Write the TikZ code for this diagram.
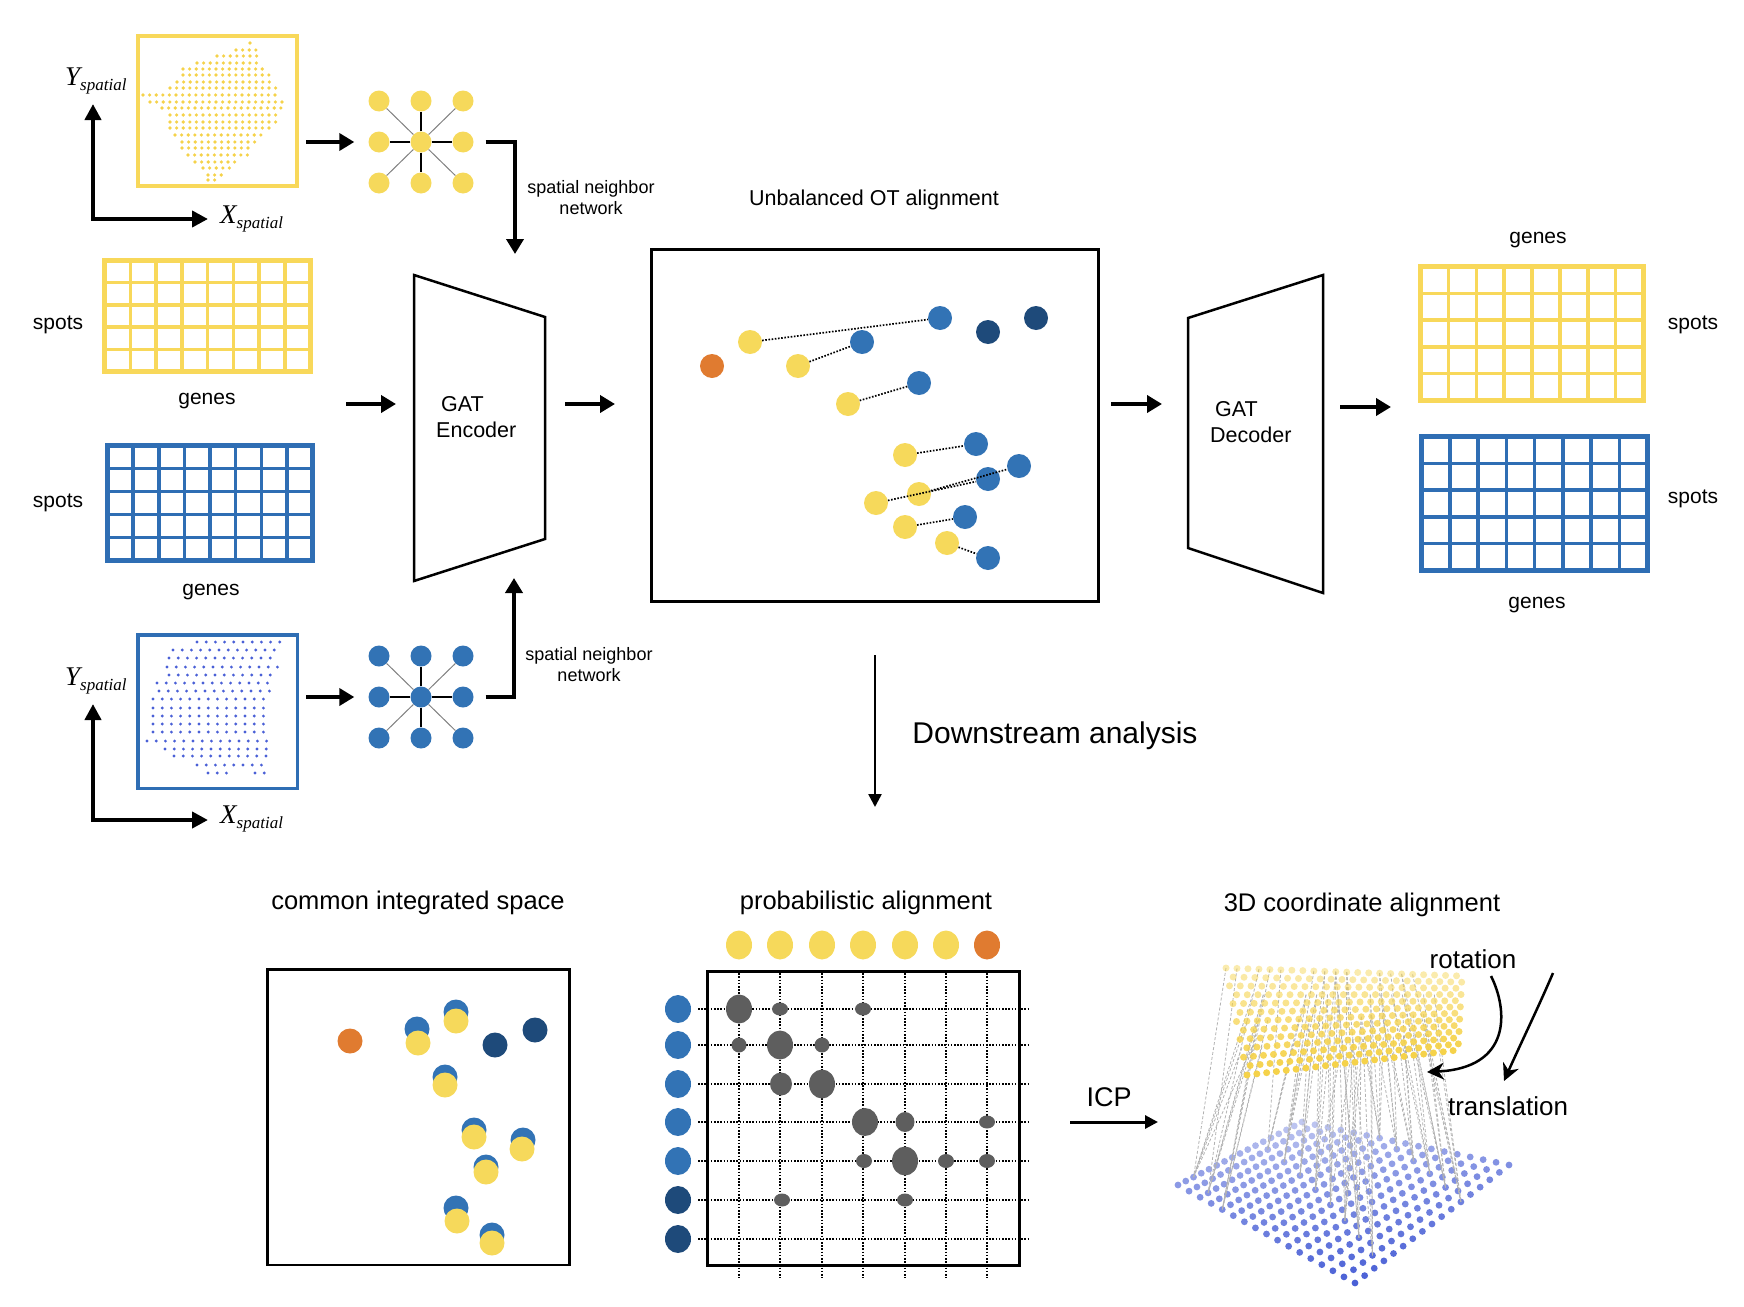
\documentclass[tikz,border=0pt]{standalone}
\usepackage{fontspec}
\setmainfont{Liberation Sans}
\newfontfamily\tms{Liberation Serif}
\usetikzlibrary{arrows.meta}
\definecolor{ycol}{HTML}{F6D95B}
\definecolor{bcol}{HTML}{3273B5}
\definecolor{ncol}{HTML}{1E4A7A}
\definecolor{ocol}{HTML}{E07B30}
\definecolor{gcol}{HTML}{5E5E5E}
\definecolor{doty}{HTML}{F5D24A}
\definecolor{dotb}{HTML}{4A60D6}
\definecolor{gridy}{HTML}{F8D85A}
\definecolor{gridb}{HTML}{2F6EB4}
\newcommand\fsz[2]{\fontsize{#1}{#2}\selectfont}
% matrix: name, x0, y0, x1, y1, colour (outer extents)
\newcommand\gmat[6]{%
  \foreach \k in {1,...,7} \draw[#6, line width=3.5pt] ({#2+2.5+(#4-#2-5)*\k/8},{#3+2.5}) -- ({#2+2.5+(#4-#2-5)*\k/8},{#5-2.5});
  \foreach \k in {1,...,4} \draw[#6, line width=3.5pt] ({#2+2.5},{#3+2.5+(#5-#3-5)*\k/5}) -- ({#4-2.5},{#3+2.5+(#5-#3-5)*\k/5});
  \node[draw=#6, line width=5pt, inner sep=0pt, minimum width={#4-#2-5}, minimum height={#5-#3-5}] (#1) at ({(#2+#4)/2},{(#3+#5)/2}) {};
}
% spatial neighbour graph: prefix, cx, cy, colour
\newcommand\spgraph[4]{%
  \node[gnode, fill=#4] (#1c) at (#2,#3) {};
  \foreach \a/\dx/\dy in {nw/-1/-1, n/0/-1, ne/1/-1, w/-1/0, e/1/0, sw/-1/1, s/0/1, se/1/1}
    \node[gnode, fill=#4] (#1\a) at ({#2+42*\dx},{#3+41*\dy}) {};
  \foreach \a in {n,s,e,w} \draw[line width=1.4pt] (#1c) -- (#1\a);
  \foreach \a in {nw,ne,sw,se} \draw[gray, line width=1pt] (#1c) -- (#1\a);
}
\begin{document}
\begin{tikzpicture}[x=1pt,y=-1pt,
  bigarr/.style={line width=4.5pt,-{Triangle[length=15pt,width=17pt]}},
  axarr/.style={line width=4pt,{Triangle[length=16pt,width=16pt]}-{Triangle[length=16pt,width=16pt]}, line join=miter},
  gnode/.style={circle,inner sep=0pt,minimum size=21pt},
  spot/.style={circle,inner sep=0pt,minimum size=25pt},
  lab/.style={font=\fsz{21}{25}, yshift=-3.5pt},
  small/.style={font=\fsz{18}{21}, align=center},
  title/.style={font=\fsz{25.5}{30}},
  dotl/.style={line width=1.7pt,dash pattern=on 1.6pt off 1.6pt},
]
\useasboundingbox (0,0) rectangle (1744,1306);

% ---------------- top-left: yellow spatial section ----------------
\node[draw=gridy, line width=4pt, inner sep=0pt, minimum width=159pt, minimum height=150pt] (ybox) at (217.5,111) {};
\foreach \yy/\xa/\n in {43/250/1, 50/236/4, 56/217/7, 63/197/10, 69/183/13, 75/183/14, 82/177/15, 88/170/17,
   95/143/21, 102/150/21, 108/162/19, 115/170/17, 122/170/17, 128/170/16, 135/175/14, 142/182/12,
   148/182/11, 155/188/10, 162/195/7, 168/203/5, 175/208/3, 180/208/2}
  \foreach \m in {1,...,\n} \fill[doty] ({\xa+6.6*(\m-1)},\yy) circle[radius=1.8pt];
\coordinate (yax) at (93,104); \coordinate (yo) at (93,219); \coordinate (xax) at (208,219);
\draw[axarr] (yax) -- (yo) -- (xax);
\node[anchor=base west, inner sep=0pt] (ylab1) at (65,85) {\tms\itshape\fsz{27}{30}Y\raisebox{-5pt}{\fsz{17}{20}spatial}};
\node[anchor=base west, inner sep=0pt] (xlab1) at (220,223) {\tms\itshape\fsz{27}{30}X\raisebox{-5pt}{\fsz{17}{20}spatial}};
\spgraph{yg}{421}{142}{ycol}
\draw[bigarr] ([xshift=7pt]ybox.east |- ygw.west) -- ([xshift=-14pt]ygw.west);
\coordinate (encTop) at (515,254);
\draw[line width=4.5pt, -{Triangle[length=15pt,width=17pt]}] ([xshift=12pt]yge.east) -| (encTop);
\node[small] (snn1) at (591,198) {spatial neighbor\\network};

% ---------------- left matrices ----------------
\gmat{ymat}{102}{258}{313}{374}{gridy}
\gmat{bmat}{105}{443}{315}{563}{gridb}
\node[lab] (sp1) at (58,321) {spots};
\node[lab] (ge1) at (207,398) {genes};
\node[lab] (sp2) at (58,499) {spots};
\node[lab] (ge2) at (211,589) {genes};

% ---------------- bottom-left: blue spatial section ----------------
\node[draw=gridb, line width=3.5pt, inner sep=0pt, minimum width=159.5pt, minimum height=153.5pt] (bbox) at (217.5,711.5) {};
\foreach \yy/\xa/\n in {642/197/10, 650/173/12, 658/169/12, 667/167/13, 675/169/12, 683/157/13, 691/159/13,
   699/153/13, 708/153/13, 716/153/13, 724/153/13, 732/153/13, 741/147/14, 749/165/12, 756/174/11,
   765/197/8, 773/208/3, 773/255/2}
  \foreach \m in {1,...,\n} \fill[dotb] ({\xa+9.2*(\m-1)},\yy) circle[radius=1.6pt];
\coordinate (yax2) at (93,704); \coordinate (yo2) at (93,820); \coordinate (xax2) at (208,820);
\draw[axarr] (yax2) -- (yo2) -- (xax2);
\node[anchor=base west, inner sep=0pt] (ylab2) at (65,685) {\tms\itshape\fsz{27}{30}Y\raisebox{-5pt}{\fsz{17}{20}spatial}};
\node[anchor=base west, inner sep=0pt] (xlab2) at (220,823) {\tms\itshape\fsz{27}{30}X\raisebox{-5pt}{\fsz{17}{20}spatial}};
\spgraph{bg}{421}{697}{bcol}
\draw[bigarr] ([xshift=7pt]bbox.east |- bgw.west) -- ([xshift=-14pt]bgw.west);
\coordinate (encBot) at (514,578);
\draw[line width=4.5pt, -{Triangle[length=15pt,width=17pt]}] ([xshift=12pt]bge.east) -| (encBot);
\node[small] (snn2) at (589,665) {spatial neighbor\\network};

% ---------------- encoder ----------------
\draw[line width=2.5pt, line join=miter] (414,275) -- (545,317) -- (545,539) -- (414,581) -- cycle;
\node[anchor=west, align=left, font=\fsz{21.5}{26}, inner sep=0pt] (enc) at (436,417) {\hspace*{5pt}GAT\\Encoder};
\coordinate (matOut) at (346,404); \coordinate (encIn) at (396,404);
\draw[bigarr] (matOut) -- (encIn);
\coordinate (encOut) at (565,404); \coordinate (otIn) at (615,404);
\draw[bigarr] (encOut) -- (otIn);

% ---------------- OT alignment box ----------------
\node[font=\fsz{21.5}{25}, yshift=-2pt] (ottitle) at (874,198) {Unbalanced OT alignment};
\node[draw, line width=3pt, inner sep=0pt, minimum width=447pt, minimum height=352pt] (ot) at (875,425.5) {};
\foreach \nm/\px/\py/\c in {o1/712/366/ocol, y1/750/342/ycol, y2/798/366/ycol, y3/848/404/ycol, y4/905/455/ycol,
   y5/919/494/ycol, y6/876/503/ycol, y7/905/527/ycol, y8/947/543/ycol,
   b1/940/318/bcol, b2/862/342/bcol, b3/919/383/bcol, b4/976/444/bcol, b5/1019/466/bcol, b6/988/479/bcol,
   b7/965/517/bcol, b8/988/558/bcol, n1/988/332/ncol, n2/1036/318/ncol}
  \node[spot, minimum size=24pt, fill=\c] (\nm) at (\px,\py) {};
\foreach \i in {1,...,8} \draw[dotl] (y\i) -- (b\i);

% ---------------- decoder ----------------
\coordinate (otOut) at (1111,404); \coordinate (decIn) at (1162,404);
\draw[bigarr] (otOut) -- (decIn);
\draw[line width=2.5pt, line join=miter] (1188,318) -- (1323,275) -- (1323,593) -- (1188,548) -- cycle;
\node[anchor=west, align=left, font=\fsz{21.5}{26}, inner sep=0pt] (dec) at (1210,422) {\hspace*{5pt}GAT\\Decoder};
\coordinate (decOut) at (1340,407); \coordinate (outIn) at (1391,407);
\draw[bigarr] (decOut) -- (outIn);

% ---------------- right matrices ----------------
\gmat{ymat2}{1418}{264}{1646}{403}{gridy}
\gmat{bmat2}{1419}{434}{1650}{573}{gridb}
\node[lab] (ge3) at (1538,237) {genes};
\node[lab] (sp3) at (1693,321) {spots};
\node[lab] (sp4) at (1693,495) {spots};
\node[lab] (ge4) at (1537,602) {genes};

% ---------------- downstream ----------------
\node[anchor=north, inner sep=0pt] (dsTop) at (875,654) {};
\coordinate (dsBot) at (875,807);
\draw[line width=2.5pt, -{Triangle[length=13pt,width=13pt]}] (dsTop) -- (dsBot);
\node[font=\fsz{30}{34}, yshift=-3pt] (ds) at (1055,733) {Downstream analysis};

% ---------------- common integrated space ----------------
\node[title] (cistitle) at (418,903) {common integrated space};
\node[draw, line width=2.5pt, inner sep=0pt, minimum width=302pt, minimum height=295.5pt] (cis) at (418.5,1117) {};
\foreach \nm/\bx/\by/\yx/\yy in {p1/417/1029/418/1043, p2/456/1012/456/1021, p3/445/1077/445/1085,
   p4/474/1130/474/1137, p5/523/1140/522/1149, p6/486/1167/486/1172, p7/456/1208/457/1221, p8/492/1235/492/1243}
  {\node[spot, fill=bcol] (\nm b) at (\bx,\by) {};
   \node[spot, fill=ycol] (\nm y) at (\yx,\yy) {};}
\node[spot, fill=ocol] (co) at (350,1041) {};
\node[spot, fill=ncol] (cn1) at (495,1045) {};
\node[spot, fill=ncol] (cn2) at (535,1030) {};

% ---------------- probabilistic alignment ----------------
\node[title] (patitle) at (866,903) {probabilistic alignment};
\node[draw, line width=2.5pt, inner sep=0pt, minimum width=312pt, minimum height=294pt] (pa) at (863.5,1118.5) {};
\foreach \c/\px in {1/739, 2/780, 3/822, 4/863, 5/905, 6/946, 7/987}
  \draw[dotl] (\px,970) -- (\px,1278);
\foreach \r/\py in {1/1009, 2/1045, 3/1084, 4/1122, 5/1161, 6/1200, 7/1239}
  \draw[dotl] (698,\py) -- (1029,\py);
\foreach \px/\py/\rx/\ry in {739/1009/13/14.5, 780/1009/8/6.5, 863/1009/8/6.5,
   739/1045/7.5/7.5, 780/1045/13/14.5, 822/1045/7.5/7.5,
   781/1084/11/11.5, 822/1084/13/14.5,
   865/1122/13/14, 905/1122/9.5/10, 987/1122/8/6.5,
   864/1161/8/7, 905/1161/13/14.5, 946/1161/8/7, 987/1161/8/7,
   782/1200/8/6.5, 905/1200/8/6.5}
  \fill[gcol] (\px,\py) ellipse[x radius=\rx pt, y radius=\ry pt];
\foreach \c/\px/\col in {1/739/ycol, 2/780/ycol, 3/822/ycol, 4/863/ycol, 5/905/ycol, 6/946/ycol, 7/987/ocol}
  \fill[\col] (\px,945) ellipse[x radius=13pt, y radius=14.5pt];
\foreach \r/\py/\col in {1/1009/bcol, 2/1045/bcol, 3/1084/bcol, 4/1122/bcol, 5/1161/bcol, 6/1200/ncol, 7/1239/ncol}
  \fill[\col] (678,\py) ellipse[x radius=13pt, y radius=14pt];

% ---------------- ICP ----------------
\node[font=\fsz{27}{30}] (icp) at (1109,1097) {ICP};
\coordinate (icpA) at (1070,1122); \coordinate (icpB) at (1158,1122);
\draw[line width=3pt, -{Triangle[length=13pt,width=13pt]}] (icpA) -- (icpB);

% ---------------- 3D coordinate alignment ----------------
\node[title] (tdtitle) at (1362,905) {3D coordinate alignment};
% blue sheet
\foreach \u in {0,...,16} \foreach \v in {0,...,16} {
  \pgfmathsetmacro\s{\u/16}\pgfmathsetmacro\t{\v/16}
  \pgfmathsetmacro\px{(1-\s)*(1-\t)*1178+\s*(1-\t)*1355+(1-\s)*\t*1302+\s*\t*1509}
  \pgfmathsetmacro\py{(1-\s)*(1-\t)*1185+\s*(1-\t)*1283+(1-\s)*\t*1122+\s*\t*1165}
  \pgfmathsetmacro\op{0.35+0.65*(0.55*\s+0.45*(1-\t))}
  \fill[dotb, opacity=\op] (\px,\py) circle[radius=3.4pt];
}
% dashed correspondences
\foreach \k in {0,...,79} {
  \pgfmathsetmacro\s{mod(\k*7+2,17)/16}\pgfmathsetmacro\t{mod(\k*5+1,17)/16}
  \pgfmathsetmacro\bx{(1-\s)*(1-\t)*1178+\s*(1-\t)*1355+(1-\s)*\t*1302+\s*\t*1509}
  \pgfmathsetmacro\by{(1-\s)*(1-\t)*1185+\s*(1-\t)*1283+(1-\s)*\t*1122+\s*\t*1165}
  \pgfmathtruncatemacro\ii{min(21,max(0,round((\bx-1178)/331*21+mod(\k,3)-1)))}
  \pgfmathtruncatemacro\jj{mod(\k*3,12)}
  \pgfmathsetmacro\a{\ii/21.5}\pgfmathsetmacro\b{\jj/12}
  \pgfmathsetmacro\qx{(1-\a)*(1-\b)*1226+\a*(1-\b)*1462+(1-\a)*\b*1247+\a*\b*1458}
  \pgfmathsetmacro\qy{(1-\a)*(1-\b)*968+\a*(1-\b)*976+(1-\a)*\b*1075+\a*\b*1050}
  \draw[gray!60, line width=0.8pt, dash pattern=on 3pt off 2pt] (\qx,\qy) -- (\bx,\by);
}
% yellow sheet
\foreach \j in {0,...,12} \foreach \i in {0,...,21} {
  \pgfmathsetmacro\s{(\i+0.5*mod(\j,2))/21.5}\pgfmathsetmacro\t{\j/12}
  \pgfmathsetmacro\px{(1-\s)*(1-\t)*1226+\s*(1-\t)*1462+(1-\s)*\t*1247+\s*\t*1458}
  \pgfmathsetmacro\py{(1-\s)*(1-\t)*968+\s*(1-\t)*976+(1-\s)*\t*1075+\s*\t*1050}
  \pgfmathsetmacro\op{0.45+0.55*\t}
  \fill[doty, opacity=\op] (\px,\py) circle[radius=3.5pt];
}
\node[font=\fsz{26}{30}] (rot) at (1473,959) {rotation};
\node[font=\fsz{26}{30}] (trans) at (1508,1106) {translation};
\coordinate (rotA) at (1491,976); \coordinate (rotB) at (1427,1072);
\draw[line width=2.5pt, -{Stealth[length=17pt,width=17pt]}] (rotA) .. controls (1508,1010) and (1512,1068) .. (rotB);
\coordinate (trA) at (1553,973); \coordinate (trB) at (1504,1081);
\draw[line width=2.5pt, -{Stealth[length=17pt,width=17pt]}] (trA) .. controls (1538,1008) and (1520,1045) .. (trB);
\end{tikzpicture}
\end{document}
